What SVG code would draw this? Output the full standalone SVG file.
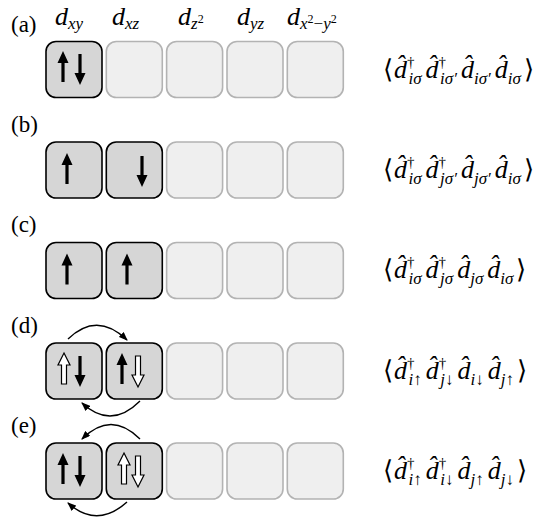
<svg xmlns="http://www.w3.org/2000/svg" width="559" height="521" viewBox="0 0 559 521">
<defs>
<polygon id="up" points="0,0 5.5,12 1.6,12 1.6,31 -1.6,31 -1.6,12 -5.5,12" fill="#000"/>
<polygon id="dn" points="0,0 5.5,-12 1.6,-12 1.6,-31 -1.6,-31 -1.6,-12 -5.5,-12" fill="#000"/>
<polygon id="hup" points="0,0 6,12 2.5,12 2.5,31 -2.5,31 -2.5,12 -6,12" fill="#fff" stroke="#000" stroke-width="1.2"/>
<polygon id="hdn" points="0,0 6,-12 2.5,-12 2.5,-31 -2.5,-31 -2.5,-12 -6,-12" fill="#fff" stroke="#000" stroke-width="1.2"/>
<rect id="bon" width="56" height="56" rx="10" fill="#d6d6d6" stroke="#000" stroke-width="1.6"/>
<rect id="boff" width="56" height="56" rx="10" fill="#efefef" stroke="#b3b3b3" stroke-width="1.6"/>
<marker id="ah" viewBox="0 0 9 7" refX="8" refY="3.5" markerWidth="9" markerHeight="7" markerUnits="userSpaceOnUse" orient="auto">
<path d="M0,0 L9,3.5 L0,7 z" fill="#000"/>
</marker>
</defs>

<g id="headers">
<text font-family="Liberation Serif" font-size="26" font-style="italic" x="55" y="25">d<tspan font-size="17" dy="4">xy</tspan></text>
<text font-family="Liberation Serif" font-size="26" font-style="italic" x="112" y="25">d<tspan font-size="17" dy="4">xz</tspan></text>
<text font-family="Liberation Serif" font-size="26" font-style="italic" x="178" y="25">d<tspan font-size="17" dy="4">z</tspan><tspan font-style="normal" font-size="12" dy="-6">2</tspan></text>
<text font-family="Liberation Serif" font-size="26" font-style="italic" x="237" y="25">d<tspan font-size="17" dy="4">yz</tspan></text>
<text font-family="Liberation Serif" font-size="26" font-style="italic" x="287" y="25">d<tspan font-size="17" dy="4">x</tspan><tspan font-style="normal" font-size="12" dy="-6">2</tspan><tspan font-size="17" font-style="normal" dy="6">−</tspan><tspan font-size="17">y</tspan><tspan font-style="normal" font-size="12" dy="-6">2</tspan></text>
</g>

<g id="labels">
<text font-family="Liberation Serif" font-size="23" x="11" y="32">(a)</text>
<text font-family="Liberation Serif" font-size="23" x="11" y="132">(b)</text>
<text font-family="Liberation Serif" font-size="23" x="11" y="232">(c)</text>
<text font-family="Liberation Serif" font-size="23" x="11" y="333">(d)</text>
<text font-family="Liberation Serif" font-size="23" x="11" y="433">(e)</text>
</g>

<g id="row-a">
<use href="#bon" x="46" y="41.5"/>
<use href="#boff" x="106.3" y="41.5"/>
<use href="#boff" x="166.6" y="41.5"/>
<use href="#boff" x="227" y="41.5"/>
<use href="#boff" x="287.3" y="41.5"/>
<use href="#up" x="63" y="51"/>
<use href="#dn" x="80" y="85"/>
</g>

<g id="row-b">
<use href="#bon" x="46" y="142"/>
<use href="#bon" x="106.3" y="142"/>
<use href="#boff" x="166.6" y="142"/>
<use href="#boff" x="227" y="142"/>
<use href="#boff" x="287.3" y="142"/>
<use href="#up" x="67" y="153"/>
<use href="#dn" x="142" y="187"/>
</g>

<g id="row-c">
<use href="#bon" x="46" y="242.5"/>
<use href="#bon" x="106.3" y="242.5"/>
<use href="#boff" x="166.6" y="242.5"/>
<use href="#boff" x="227" y="242.5"/>
<use href="#boff" x="287.3" y="242.5"/>
<use href="#up" x="67" y="253.5"/>
<use href="#up" x="127" y="253.5"/>
</g>

<g id="row-d">
<use href="#bon" x="46" y="343"/>
<use href="#bon" x="106.3" y="343"/>
<use href="#boff" x="166.6" y="343"/>
<use href="#boff" x="227" y="343"/>
<use href="#boff" x="287.3" y="343"/>
<use href="#hup" x="64" y="353"/>
<use href="#dn" x="80" y="387"/>
<use href="#up" x="122" y="353"/>
<use href="#hdn" x="138" y="387"/>
</g>

<g id="row-e">
<use href="#bon" x="46" y="443"/>
<use href="#bon" x="106.3" y="443"/>
<use href="#boff" x="166.6" y="443"/>
<use href="#boff" x="227" y="443"/>
<use href="#boff" x="287.3" y="443"/>
<use href="#up" x="63" y="453"/>
<use href="#dn" x="80" y="487"/>
<use href="#hup" x="124" y="453"/>
<use href="#hdn" x="138" y="487"/>
</g>

<g id="connectors" fill="none" stroke="#000" stroke-width="1.4">
<path d="M68,339 Q97,311 127,340" marker-end="url(#ah)"/>
<path d="M140,401 Q111,430 82,403" marker-end="url(#ah)"/>
<path d="M140,439 Q111,410 82,439" marker-end="url(#ah)"/>
<path d="M127,502 Q97,529 68,503" marker-end="url(#ah)"/>
</g>

<g id="formulas">
<text font-family="Liberation Serif" font-size="26" font-style="italic" x="383" y="78"><tspan font-style="normal">⟨</tspan><tspan dx="1">d̂</tspan><tspan font-size="15" font-style="normal" dy="-11">†</tspan><tspan font-size="17" dx="-6" dy="17">iσ</tspan><tspan dx="4" dy="-6">d̂</tspan><tspan font-size="15" font-style="normal" dy="-11">†</tspan><tspan font-size="17" dx="-6" dy="17">iσ′</tspan><tspan dx="4" dy="-6">d̂</tspan><tspan font-size="17" dy="6">iσ′</tspan><tspan dx="4" dy="-6">d̂</tspan><tspan font-size="17" dy="6">iσ</tspan><tspan font-style="normal" dx="3" dy="-6">⟩</tspan></text>
<text font-family="Liberation Serif" font-size="26" font-style="italic" x="383" y="178"><tspan font-style="normal">⟨</tspan><tspan dx="1">d̂</tspan><tspan font-size="15" font-style="normal" dy="-11">†</tspan><tspan font-size="17" dx="-6" dy="17">iσ</tspan><tspan dx="4" dy="-6">d̂</tspan><tspan font-size="15" font-style="normal" dy="-11">†</tspan><tspan font-size="17" dx="-6" dy="17">jσ′</tspan><tspan dx="4" dy="-6">d̂</tspan><tspan font-size="17" dy="6">jσ′</tspan><tspan dx="4" dy="-6">d̂</tspan><tspan font-size="17" dy="6">iσ</tspan><tspan font-style="normal" dx="3" dy="-6">⟩</tspan></text>
<text font-family="Liberation Serif" font-size="26" font-style="italic" x="383" y="278"><tspan font-style="normal">⟨</tspan><tspan dx="1">d̂</tspan><tspan font-size="15" font-style="normal" dy="-11">†</tspan><tspan font-size="17" dx="-6" dy="17">iσ</tspan><tspan dx="4" dy="-6">d̂</tspan><tspan font-size="15" font-style="normal" dy="-11">†</tspan><tspan font-size="17" dx="-6" dy="17">jσ</tspan><tspan dx="4" dy="-6">d̂</tspan><tspan font-size="17" dy="6">jσ</tspan><tspan dx="4" dy="-6">d̂</tspan><tspan font-size="17" dy="6">iσ</tspan><tspan font-style="normal" dx="3" dy="-6">⟩</tspan></text>
<text font-family="Liberation Serif" font-size="26" font-style="italic" x="383" y="379"><tspan font-style="normal">⟨</tspan><tspan dx="1">d̂</tspan><tspan font-size="15" font-style="normal" dy="-11">†</tspan><tspan font-size="17" dx="-6" dy="17">i↑</tspan><tspan dx="4" dy="-6">d̂</tspan><tspan font-size="15" font-style="normal" dy="-11">†</tspan><tspan font-size="17" dx="-6" dy="17">j↓</tspan><tspan dx="4" dy="-6">d̂</tspan><tspan font-size="17" dy="6">i↓</tspan><tspan dx="4" dy="-6">d̂</tspan><tspan font-size="17" dy="6">j↑</tspan><tspan font-style="normal" dx="3" dy="-6">⟩</tspan></text>
<text font-family="Liberation Serif" font-size="26" font-style="italic" x="383" y="479"><tspan font-style="normal">⟨</tspan><tspan dx="1">d̂</tspan><tspan font-size="15" font-style="normal" dy="-11">†</tspan><tspan font-size="17" dx="-6" dy="17">i↑</tspan><tspan dx="4" dy="-6">d̂</tspan><tspan font-size="15" font-style="normal" dy="-11">†</tspan><tspan font-size="17" dx="-6" dy="17">i↓</tspan><tspan dx="4" dy="-6">d̂</tspan><tspan font-size="17" dy="6">j↑</tspan><tspan dx="4" dy="-6">d̂</tspan><tspan font-size="17" dy="6">j↓</tspan><tspan font-style="normal" dx="3" dy="-6">⟩</tspan></text>
</g>
</svg>
